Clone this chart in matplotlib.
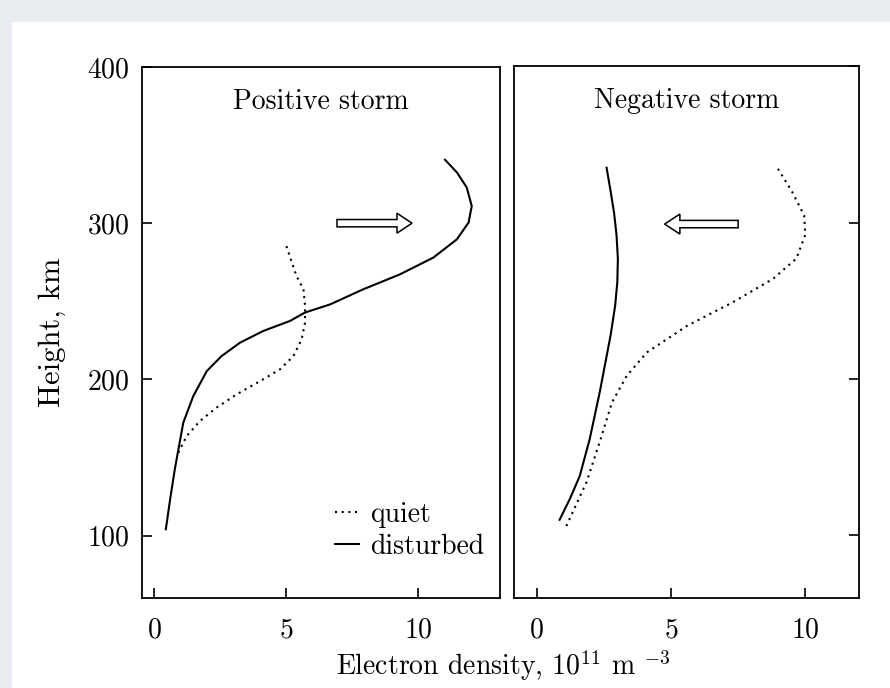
import matplotlib
matplotlib.use("Agg")
import matplotlib.pyplot as plt
from matplotlib.patches import Rectangle

plt.rcParams['font.family'] = ['cmr10', 'DejaVu Serif']
plt.rcParams['mathtext.fontset'] = 'cm'
plt.rcParams['axes.formatter.use_mathtext'] = True
plt.rcParams['font.size'] = 20

# electron density profiles (10^11 m^-3) vs height (km)
pos_dist_ne = [0.45, 0.62, 0.80, 1.11, 1.49, 2.0, 2.56, 3.26, 4.14, 5.15, 5.72, 6.67, 7.9,
               9.32, 10.58, 11.47, 11.91, 12.03, 11.84, 11.47, 11.02]
pos_dist_h = [104, 124, 143.4, 172.2, 189.3, 205.3, 214.9, 223.5, 231, 237.4, 242.8, 248, 257.5,
              267.3, 278, 289.7, 300.4, 311, 322.9, 332.5, 340.6]
pos_quiet_ne = [0.92, 1.24, 1.74, 2.37, 3.13, 4.02, 4.77, 5.28, 5.59, 5.72, 5.72, 5.66, 5.4, 4.96]
pos_quiet_h = [153, 163.7, 173.3, 181.9, 190.4, 198.9, 206.4, 214.9, 225.6, 236.3, 247, 257.7, 266, 288]

neg_dist_ne = [0.85, 1.25, 1.6, 1.97, 2.35, 2.55, 2.75, 2.92, 3.0, 3.02, 2.97, 2.88, 2.75, 2.6]
neg_dist_h = [110, 124, 138, 161.5, 192, 210, 228, 247, 262, 277, 292, 306, 320, 335]
neg_quiet_ne = [1.1, 1.85, 2.35, 2.8, 3.35, 4.1, 5.6, 7.3, 8.8, 9.67, 10.0, 9.96, 9.5, 8.96]
neg_quiet_h = [106, 134, 160, 185, 202, 217, 234, 249, 264, 277, 292, 304.5, 320, 335]

# hollow arrows: (start, end, height)
pos_arrow = (6.93, 9.77, 300)
neg_arrow = (7.5, 4.76, 299)

fig = plt.figure(figsize=(8.9, 6.88), dpi=100, facecolor='#e9edf2')
fig.patches.append(Rectangle((12 / 890, 0), 1, 1 - 22 / 688, transform=fig.transFigure,
                             facecolor='white', edgecolor='none', zorder=-10))

ax1 = fig.add_axes([0.1596, 0.1308, 0.4022, 0.7718])
ax2 = fig.add_axes([0.5775, 0.1308, 0.3876, 0.7732])

dot = (0, (1, 2.2))

ax1.plot(pos_quiet_ne, pos_quiet_h, color='black', lw=1.5, ls=dot, label='quiet')
ax1.plot(pos_dist_ne, pos_dist_h, color='black', lw=1.5, label='disturbed')
ax2.plot(neg_quiet_ne, neg_quiet_h, color='black', lw=1.5, ls=dot)
ax2.plot(neg_dist_ne, neg_dist_h, color='black', lw=1.5)

for ax, (x0, x1, y) in ((ax1, pos_arrow), (ax2, neg_arrow)):
    ax.arrow(x0, y, x1 - x0, 0, width=4.7, head_width=12.8, head_length=0.57,
             length_includes_head=True, fc='white', ec='black', lw=1.1)

ax1.set_xlim(-0.45, 13.1)
ax2.set_xlim(-0.85, 12.0)
for ax in (ax1, ax2):
    ax.set_ylim(60, 400)
    ax.set_xticks([0, 5, 10])
    ax.set_yticks([100, 200, 300, 400])
    for s in ax.spines.values():
        s.set_linewidth(1.3)
    ax.tick_params(direction='in', length=7, width=1.2, labelsize=20)
    ax.tick_params(axis='x', pad=14)
    ax.tick_params(axis='y', pad=9)

ax2.tick_params(axis='y', left=False, right=True, labelleft=False)

ax1.text(0.5, 0.935, 'Positive storm', transform=ax1.transAxes, ha='center', va='center', fontsize=20)
ax2.text(0.5, 0.935, 'Negative storm', transform=ax2.transAxes, ha='center', va='center', fontsize=20)

ax1.set_ylabel('Height, km', fontsize=22, labelpad=15)
fig.text(0.566, 0.033, r'Electron density, $10^{11}$ m $^{-3}$', ha='center', va='center', fontsize=20)

ax1.legend(loc='lower right', bbox_to_anchor=(1.025, 0.025), frameon=False, fontsize=20,
           handlelength=0.85, handletextpad=0.4, labelspacing=0.2)

fig.savefig('out.png', dpi=100)
